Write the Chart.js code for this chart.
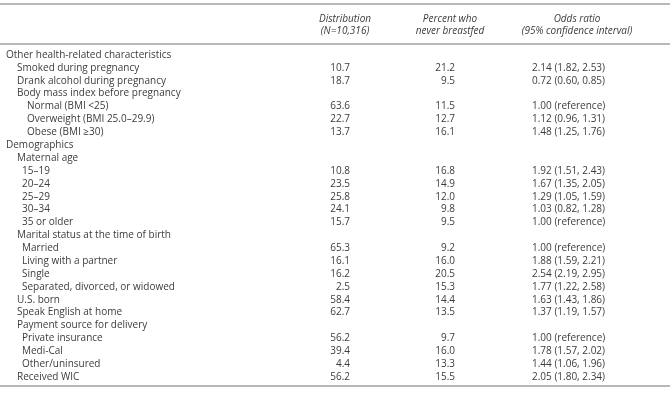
<!DOCTYPE html>
<html>
<head>
<meta charset="utf-8">
<script src="https://cdn.jsdelivr.net/npm/chart.js@4.4.0/dist/chart.umd.min.js"></script>
<style>
  body { margin: 0; background: #fff; }
  #wrap { width: 670px; height: 401px; }
</style>
</head>
<body>
<div id="wrap"><canvas id="tableChart" width="670" height="401"></canvas></div>
<script>
// Row labels and their nesting level
const rowLabels = [
  'Other health-related characteristics',
  'Smoked during pregnancy',
  'Drank alcohol during pregnancy',
  'Body mass index before pregnancy',
  'Normal (BMI <25)',
  'Overweight (BMI 25.0\u201329.9)',
  'Obese (BMI \u226530)',
  'Demographics',
  'Maternal age',
  '15\u201319',
  '20\u201324',
  '25\u201329',
  '30\u201334',
  '35 or older',
  'Marital status at the time of birth',
  'Married',
  'Living with a partner',
  'Single',
  'Separated, divorced, or widowed',
  'U.S. born',
  'Speak English at home',
  'Payment source for delivery',
  'Private insurance',
  'Medi-Cal',
  'Other/uninsured',
  'Received WIC'
];
const rowLevel = [0, 1, 1, 1, 3, 3, 3, 0, 1, 2, 2, 2, 2, 2, 1, 2, 2, 2, 2, 1, 1, 1, 2, 2, 2, 1];

// Values
const distribution = [null, 10.7, 18.7, null, 63.6, 22.7, 13.7, null, null, 10.8, 23.5, 25.8, 24.1, 15.7, null, 65.3, 16.1, 16.2, 2.5, 58.4, 62.7, null, 56.2, 39.4, 4.4, 56.2];
const neverBreastfed = [null, 21.2, 9.5, null, 11.5, 12.7, 16.1, null, null, 16.8, 14.9, 12.0, 9.8, 9.5, null, 9.2, 16.0, 20.5, 15.3, 14.4, 13.5, null, 9.7, 16.0, 13.3, 15.5];
const oddsRatio = [null, 2.14, 0.72, null, 1.00, 1.12, 1.48, null, null, 1.92, 1.67, 1.29, 1.03, 1.00, null, 1.00, 1.88, 2.54, 1.77, 1.63, 1.37, null, 1.00, 1.78, 1.44, 2.05];
const ciLow = [null, 1.82, 0.60, null, null, 0.96, 1.25, null, null, 1.51, 1.35, 1.05, 0.82, null, null, null, 1.59, 2.19, 1.22, 1.43, 1.19, null, null, 1.57, 1.06, 1.80];
const ciHigh = [null, 2.53, 0.85, null, null, 1.31, 1.76, null, null, 2.43, 2.05, 1.59, 1.28, null, null, null, 2.21, 2.95, 2.58, 1.86, 1.57, null, null, 2.02, 1.96, 2.34];

// Column headers
const headers = [
  ['Distribution', '(N=10,316)'],
  ['Percent who', 'never breastfed'],
  ['Odds ratio', '(95% confidence interval)']
];

const FONT = '"Open Sans", sans-serif';
const TEXT = '#3c3c3c';
const RULE = '#a0a0a0';
const indents = [6, 17, 22, 27];

const tablePlugin = {
  id: 'tableText',
  afterDraw(chart) {
    const ctx = chart.ctx;
    const y = chart.scales.y;
    const area = chart.chartArea;
    const W = chart.width;
    ctx.save();

    // rules
    ctx.strokeStyle = RULE;
    ctx.lineWidth = 1.3;
    [area.top - 51, area.top - 11, area.bottom + 9].forEach(ry => {
      ctx.beginPath();
      ctx.moveTo(0, ry);
      ctx.lineTo(W, ry);
      ctx.stroke();
    });

    // headers
    ctx.fillStyle = TEXT;
    ctx.textBaseline = 'middle';
    ctx.textAlign = 'center';
    ctx.font = 'italic 10px ' + FONT;
    const headerX = [345, 450, 577];
    headers.forEach((lines, c) => {
      lines.forEach((t, k) => ctx.fillText(t, headerX[c], area.top - 36 + k * 12));
    });

    // rows
    ctx.font = '10px ' + FONT;
    rowLabels.forEach((lab, i) => {
      const py = y.getPixelForValue(i);
      ctx.textAlign = 'left';
      ctx.fillText(lab, indents[rowLevel[i]], py);
      if (distribution[i] != null) {
        ctx.textAlign = 'right';
        ctx.fillText(distribution[i].toFixed(1), 350, py);
      }
      if (neverBreastfed[i] != null) {
        ctx.textAlign = 'right';
        ctx.fillText(neverBreastfed[i].toFixed(1), 455, py);
      }
      if (oddsRatio[i] != null) {
        ctx.textAlign = 'left';
        const ci = ciLow[i] == null ? '(reference)'
          : '(' + ciLow[i].toFixed(2) + ', ' + ciHigh[i].toFixed(2) + ')';
        ctx.fillText(oddsRatio[i].toFixed(2) + ' ' + ci, 532, py);
      }
    });
    ctx.restore();
  }
};

new Chart(document.getElementById('tableChart').getContext('2d'), {
  type: 'bar',
  data: {
    labels: rowLabels,
    datasets: [{
      label: 'Distribution',
      data: distribution,
      backgroundColor: 'rgba(0,0,0,0)'
    }]
  },
  options: {
    indexAxis: 'y',
    responsive: false,
    animation: false,
    layout: { padding: { top: 55, bottom: 24, left: 0, right: 0 } },
    plugins: { legend: { display: false }, tooltip: { enabled: false } },
    scales: {
      y: { type: 'category', offset: false, display: false },
      x: { display: false, min: 0, max: 100 }
    }
  },
  plugins: [tablePlugin]
});
</script>
</body>
</html>
